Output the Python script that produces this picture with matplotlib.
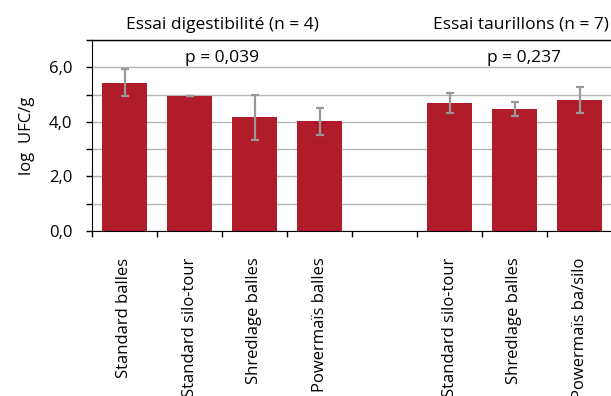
import matplotlib
matplotlib.use('Agg')
import matplotlib.pyplot as plt
from matplotlib.ticker import FixedLocator, NullFormatter

plt.rcParams['font.family'] = ['Open Sans', 'DejaVu Sans']

# Mean log counts per silage type, two trials separated by an empty slot
categories = ['Standard balles', 'Standard silo-tour', 'Shredlage balles', 'Powermaïs balles',
              '', 'Standard silo-tour', 'Shredlage balles', 'Powermaïs ba/silo']
means = [5.43, 4.94, 4.16, 4.02, None, 4.70, 4.48, 4.80]
errors = [0.50, 0.0, 0.82, 0.50, None, 0.36, 0.25, 0.46]

trial_titles = ['Essai digestibilité (n = 4)', 'Essai taurillons (n = 7)']
p_values = ['p = 0,039', 'p = 0,237']

bar_color = '#b01c2a'
err_color = '#999999'

fig = plt.figure(figsize=(6.11, 3.96), dpi=100)
ax = fig.add_axes([92/611, 165/396, 520/611, 191/396])

idx = [i for i, m in enumerate(means) if m is not None]
vals = [means[i] for i in idx]
errs = [errors[i] for i in idx]

ax.set_axisbelow(True)
ax.yaxis.grid(True, which='both', color='#b4b4b4', linewidth=1.0)
ax.bar(idx, vals, width=0.69, color=bar_color, zorder=2)
ax.errorbar(idx, vals, yerr=errs, fmt='none', ecolor=err_color,
            elinewidth=1.6, capsize=2.6, capthick=1.6, zorder=3)

ax.set_xlim(-0.5, 7.5)
ax.set_ylim(0, 7)

# y axis: labels every 2, ticks and grid every 1
ax.set_yticks([0, 2, 4, 6])
ax.set_yticklabels(['0,0', '2,0', '4,0', '6,0'])
ax.yaxis.set_minor_locator(FixedLocator([1, 3, 5, 7]))
ax.tick_params(axis='y', which='both', length=4, width=1, labelsize=12, pad=10)
ax.set_ylabel('log  UFC/g', fontsize=12, labelpad=10)

# x axis: tick marks at category boundaries, labels at centres
ax.set_xticks([i - 0.5 for i in range(9)])
ax.xaxis.set_major_formatter(NullFormatter())
ax.set_xticks(range(len(categories)), minor=True)
ax.set_xticklabels(categories, minor=True, rotation=90, va='top', ha='center', fontsize=12)
ax.tick_params(axis='x', which='major', length=4, width=1)
ax.tick_params(axis='x', which='minor', length=0, pad=19)

ax.spines['right'].set_visible(False)
ax.spines['top'].set_linewidth(1.0)

ax.text(1.5, 7.41, trial_titles[0], ha='center', va='baseline', fontsize=12.5)
ax.text(6.1, 7.41, trial_titles[1], ha='center', va='baseline', fontsize=12.5)
ax.text(1.5, 6.2, p_values[0], ha='center', va='baseline', fontsize=12.5)
ax.text(6.15, 6.2, p_values[1], ha='center', va='baseline', fontsize=12.5)

fig.savefig('out.png', dpi=100)
